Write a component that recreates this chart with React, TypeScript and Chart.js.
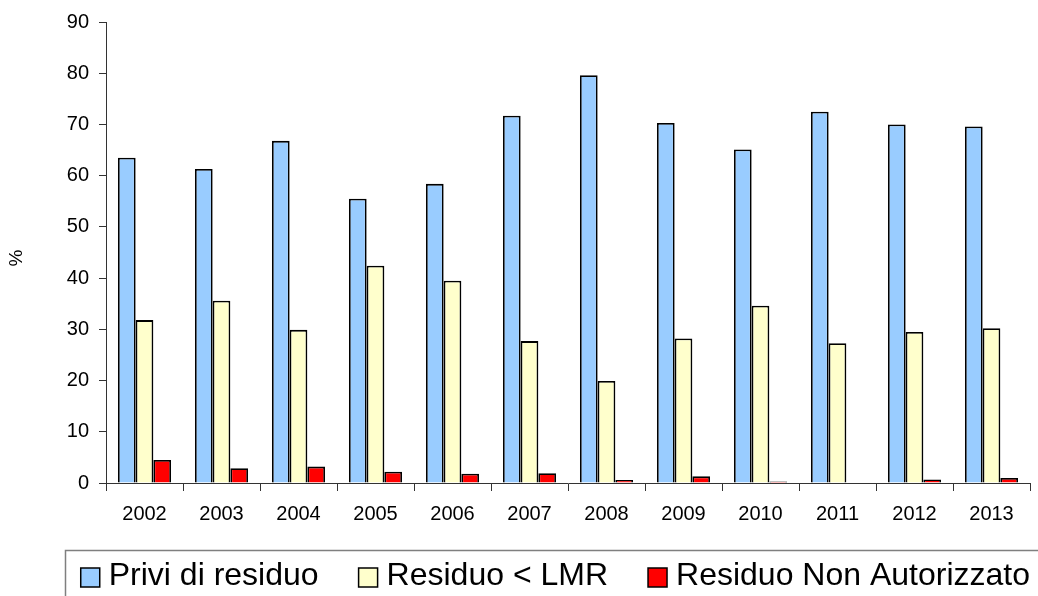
import React, { useEffect, useRef } from "react";
import { Chart, registerables } from "chart.js";

Chart.register(...registerables);

// Anni di campionamento
const years = ["2002", "2003", "2004", "2005", "2006", "2007", "2008", "2009", "2010", "2011", "2012", "2013"];

// Percentuale di campioni per esito
const priviDiResiduo = [63.5, 61.3, 66.8, 55.5, 58.4, 71.7, 79.6, 70.3, 65.1, 72.5, 70.0, 69.6];
const residuoEntroLmr = [31.8, 35.6, 29.9, 42.4, 39.5, 27.7, 19.9, 28.2, 34.6, 27.3, 29.5, 30.2];
const residuoNonAutorizzato = [4.5, 2.9, 3.2, 2.2, 1.8, 1.9, 0.6, 1.3, 0.3, 0, 0.7, 1.0];

// Asse y
const yMin = 0;
const yMax = 90;
const yStep = 10;
const yTitle = "%";

const seriesLabels = ["Privi di residuo", "Residuo < LMR", "Residuo Non Autorizzato"];
const seriesColors = ["#99CCFF", "#FFFFCC", "#FF0000"];

const FONT = '"Liberation Sans", Arial, Helvetica, sans-serif';

// Titolo verticale dell'asse y
const yAxisTitle = {
  id: "yAxisTitle",
  afterDraw(chart: any) {
    const ctx = chart.ctx as CanvasRenderingContext2D;
    ctx.save();
    ctx.translate(17, 258);
    ctx.rotate(-Math.PI / 2);
    ctx.font = `19px ${FONT}`;
    ctx.fillStyle = "#000";
    ctx.textAlign = "center";
    ctx.textBaseline = "middle";
    ctx.fillText(yTitle, 0, 0);
    ctx.restore();
  },
};

// Legenda riquadrata in basso a destra
const boxedLegend = {
  id: "boxedLegend",
  afterDraw(chart: any) {
    const ctx = chart.ctx as CanvasRenderingContext2D;
    const datasets = chart.data.datasets;
    ctx.save();
    ctx.font = `32px ${FONT}`;
    const iconSize = 19;
    const iconGap = 9;
    const itemGap = 40;
    const baseline = 585;
    const iconTop = 568;
    let x = chart.width - 8;
    const pos: { iconX: number; textX: number }[] = [];
    for (let i = datasets.length - 1; i >= 0; i--) {
      const w = ctx.measureText(datasets[i].label).width;
      const textX = x - w;
      const iconX = textX - iconGap - iconSize;
      pos[i] = { iconX, textX };
      x = iconX - itemGap;
    }
    const boxLeft = Math.round(pos[0].iconX - 16) + 0.5;
    ctx.strokeStyle = "#7f7f7f";
    ctx.lineWidth = 1.5;
    ctx.beginPath();
    ctx.moveTo(boxLeft, chart.height + 4);
    ctx.lineTo(boxLeft, 550.5);
    ctx.lineTo(chart.width + 4, 550.5);
    ctx.stroke();

    ctx.textBaseline = "alphabetic";
    ctx.textAlign = "left";
    datasets.forEach((ds: any, i: number) => {
      const p = pos[i];
      ctx.fillStyle = ds.backgroundColor;
      ctx.fillRect(p.iconX, iconTop, iconSize, iconSize);
      ctx.strokeStyle = "#000";
      ctx.lineWidth = 1.5;
      ctx.strokeRect(p.iconX, iconTop, iconSize, iconSize);
      ctx.fillStyle = "#000";
      ctx.fillText(ds.label, p.textX, baseline);
    });
    ctx.restore();
  },
};

export default function App() {
  const canvasRef = useRef<HTMLCanvasElement | null>(null);

  useEffect(() => {
    if (!canvasRef.current) return;
    const values = [priviDiResiduo, residuoEntroLmr, residuoNonAutorizzato];
    const chart = new Chart(canvasRef.current, {
      type: "bar",
      data: {
        labels: years,
        datasets: values.map((data, i) => ({
          label: seriesLabels[i],
          data,
          backgroundColor: seriesColors[i],
          borderColor: "#000",
          borderWidth: 1.8,
          borderSkipped: "bottom",
          barPercentage: 1,
          categoryPercentage: 0.69,
        })),
      },
      options: {
        animation: false,
        responsive: true,
        maintainAspectRatio: false,
        layout: { padding: { left: 0, top: 21, right: 8, bottom: 63 } },
        plugins: {
          legend: { display: false },
          tooltip: { enabled: false },
        },
        scales: {
          x: {
            type: "category",
            afterFit: (scale: any) => {
              scale.height = 50;
            },
            border: { color: "#333", width: 1 },
            grid: {
              offset: true,
              drawOnChartArea: false,
              tickLength: 8,
              tickColor: "#333",
              tickWidth: 1,
            },
            ticks: {
              color: "#000",
              padding: 11,
              font: { family: FONT, size: 20 },
              maxRotation: 0,
            },
          },
          y: {
            min: yMin,
            max: yMax,
            afterFit: (scale: any) => {
              scale.width = 106;
            },
            border: { color: "#333", width: 1 },
            grid: {
              drawOnChartArea: false,
              tickLength: 7,
              tickColor: "#333",
              tickWidth: 1,
            },
            ticks: {
              stepSize: yStep,
              color: "#000",
              padding: 10,
              font: { family: FONT, size: 20 },
            },
          },
        },
      },
      plugins: [yAxisTitle, boxedLegend],
    });
    return () => chart.destroy();
  }, []);

  return (
    <div style={{ position: "absolute", left: 0, top: 0, width: 1038, height: 596, background: "#fff" }}>
      <canvas ref={canvasRef} />
    </div>
  );
}
